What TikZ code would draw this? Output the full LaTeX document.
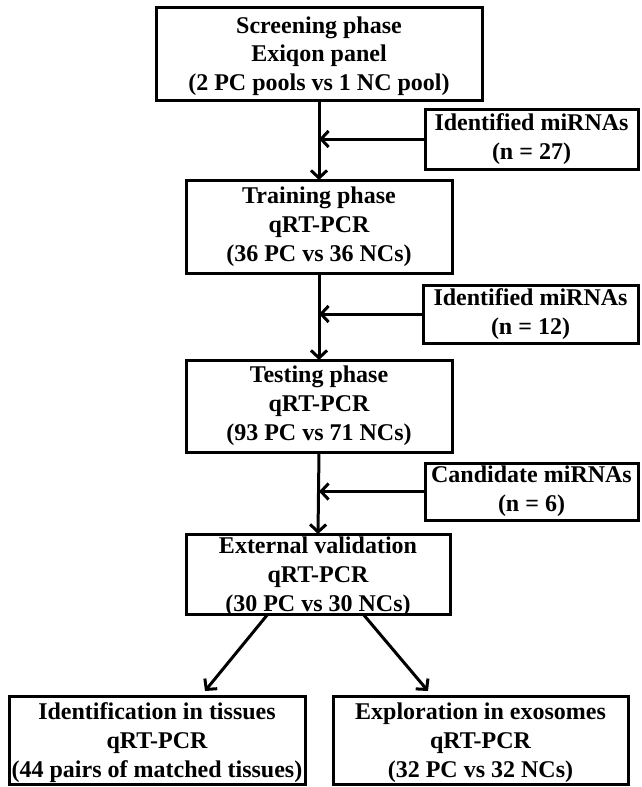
\documentclass[tikz,border=0pt]{standalone}
\usepackage{fontspec}
\setmainfont{Liberation Serif}
\usetikzlibrary{arrows.meta}
\begin{document}
\begin{tikzpicture}[x=1pt,y=-1pt,
  box/.style={draw, line width=3pt, inner sep=0pt, outer sep=0pt, align=center,
    font=\bfseries\fontsize{24}{28.8}\selectfont, anchor=north west},
  lowtext/.style={text depth=0pt},
  arr/.style={line width=3pt, -{Straight Barb[length=7.5pt,width=16pt,line width=3pt]}}]
\useasboundingbox (0,0) rectangle (641,787);
\fill[white] (0,0) rectangle (641,787);

\node[box, lowtext, minimum width=326pt, minimum height=93pt] (b1) at (156,7)
  {Screening phase\\Exiqon panel\\(2 PC pools vs 1 NC pool)};
\node[box, minimum width=213pt, minimum height=60pt] (s1) at (425,109)
  {Identified miRNAs\\(n = 27)};
\node[box, minimum width=266pt, minimum height=93pt] (b2) at (186,180)
  {Training phase\\qRT-PCR\\(36 PC vs 36 NCs)};
\node[box, minimum width=215pt, minimum height=58pt] (s2) at (423,285)
  {Identified miRNAs\\(n = 12)};
\node[box, minimum width=266pt, minimum height=92pt] (b3) at (186,360)
  {Testing phase\\qRT-PCR\\(93 PC vs 71 NCs)};
\node[box, minimum width=213pt, minimum height=57pt] (s3) at (425,463)
  {Candidate miRNAs\\(n = 6)};
\node[box, lowtext, minimum width=264pt, minimum height=80pt] (b4) at (186,534)
  {External validation\\qRT-PCR\\(30 PC vs 30 NCs)};
\node[box, lowtext, minimum width=296pt, minimum height=88pt] (bl) at (9,696)
  {Identification in tissues\\qRT-PCR\\(44 pairs of matched tissues)};
\node[box, lowtext, minimum width=295pt, minimum height=88pt] (br) at (333,696)
  {Exploration in exosomes\\qRT-PCR\\(32 PC vs 32 NCs)};

\draw[arr] (b1.south -| b2.north) -- (b2.north);
\draw[arr] (b2.south) -- (b3.north);
\draw[arr] (b3.south) -- (b4.north);
\draw[arr] (s1.west) -- (s1.west -| b2.north);
\draw[arr] (s2.west) -- (s2.west -| b2.north);
\draw[arr] (s3.west) -- (s3.west -| b2.north);

\coordinate (d1s) at (268,614);
\coordinate (d1e) at (205,691);
\coordinate (d2s) at (363,614);
\coordinate (d2e) at (428,691);
\draw[arr] (d1s) -- (d1e);
\draw[arr] (d2s) -- (d2e);
\end{tikzpicture}
\end{document}
